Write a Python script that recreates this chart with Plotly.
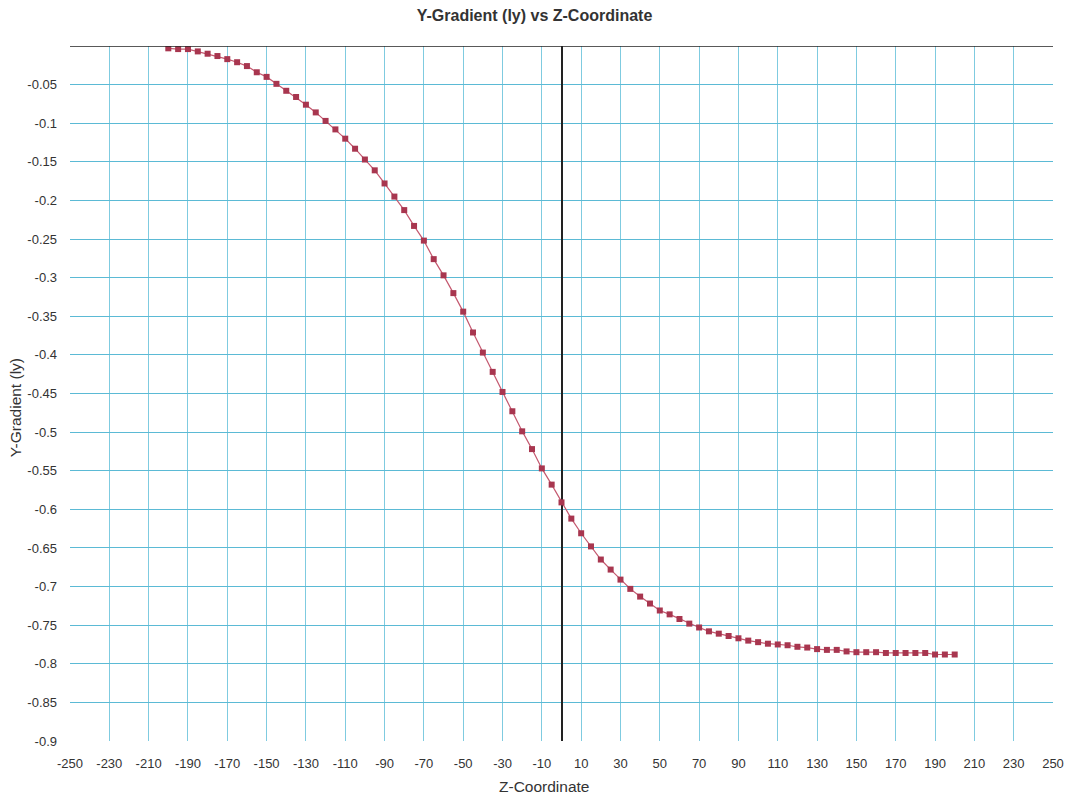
import plotly.graph_objects as go

z_coord = list(range(-200, 205, 5))
y_gradient = [
    -0.003, -0.004, -0.004, -0.007, -0.010, -0.013, -0.017, -0.021, -0.026, -0.034,
    -0.040, -0.049, -0.058, -0.066, -0.076, -0.086, -0.097, -0.108, -0.120, -0.133,
    -0.147, -0.161, -0.178, -0.195, -0.2125, -0.233, -0.252, -0.276, -0.297, -0.320,
    -0.344, -0.371, -0.397, -0.422, -0.448, -0.473, -0.499, -0.522, -0.547, -0.568,
    -0.591, -0.612, -0.631, -0.648, -0.665, -0.678, -0.691, -0.703, -0.713, -0.722,
    -0.731, -0.736, -0.742, -0.748, -0.753, -0.758, -0.761, -0.764, -0.767, -0.770,
    -0.772, -0.774, -0.775, -0.776, -0.778, -0.779, -0.781, -0.782, -0.782, -0.784,
    -0.785, -0.785, -0.785, -0.786, -0.786, -0.786, -0.786, -0.786, -0.788, -0.788,
    -0.788,
]

x_ticks = list(range(-250, 251, 20))
y_ticks = [-0.05 * i for i in range(1, 19)]
y_tick_text = ["-0.05", "-0.1", "-0.15", "-0.2", "-0.25", "-0.3", "-0.35", "-0.4", "-0.45",
               "-0.5", "-0.55", "-0.6", "-0.65", "-0.7", "-0.75", "-0.8", "-0.85", "-0.9"]

FONT = "Liberation Sans, Arial, sans-serif"
TXT = "#333333"

fig = go.Figure()
fig.add_trace(go.Scatter(
    x=z_coord, y=y_gradient, mode="lines+markers",
    line=dict(color="#c4586f", width=1.2),
    marker=dict(symbol="square", size=6, color="#a8364f"),
    showlegend=False,
))

fig.update_layout(
    width=1069, height=801,
    margin=dict(l=70, r=16, t=46, b=60),
    paper_bgcolor="white", plot_bgcolor="white",
    font=dict(family=FONT, size=13, color=TXT),
    title=dict(text="<b>Y-Gradient (ly) vs Z-Coordinate</b>", x=0.5, xanchor="center",
               y=1 - 15 / 801, yanchor="middle", font=dict(family=FONT, size=16, color=TXT)),
    xaxis=dict(
        range=[-250, 250], tickvals=x_ticks, ticktext=[str(v) for v in x_ticks],
        showgrid=True, gridcolor="#7fcbe0", gridwidth=1,
        zeroline=True, zerolinecolor="#222222", zerolinewidth=2,
        showline=False, ticks="", ticklabelstandoff=13,
        ticklabeloverflow="allow", automargin=False,
        tickfont=dict(size=13, color=TXT),
    ),
    yaxis=dict(
        range=[-0.9, 0], tickvals=y_ticks, ticktext=y_tick_text,
        showgrid=True, gridcolor="#5bbad5", gridwidth=1,
        zeroline=False, showline=False, ticks="", ticklabelstandoff=12,
        automargin=False,
        tickfont=dict(size=13, color=TXT),
    ),
    shapes=[dict(type="line", xref="paper", x0=0, x1=1, yref="y", y0=0, y1=0,
                 line=dict(color="#222222", width=1.5), layer="above")],
    annotations=[
        dict(text="Z-Coordinate", xref="paper", yref="paper", x=0.482, y=-0.066,
             xanchor="center", yanchor="middle", showarrow=False,
             font=dict(family=FONT, size=15.5, color=TXT)),
        dict(text="Y-Gradient (ly)", xref="paper", yref="paper", x=-0.056, y=0.48,
             xanchor="center", yanchor="middle", textangle=-90, showarrow=False,
             font=dict(family=FONT, size=15.5, color=TXT)),
    ],
)

fig.write_html("out.html")
